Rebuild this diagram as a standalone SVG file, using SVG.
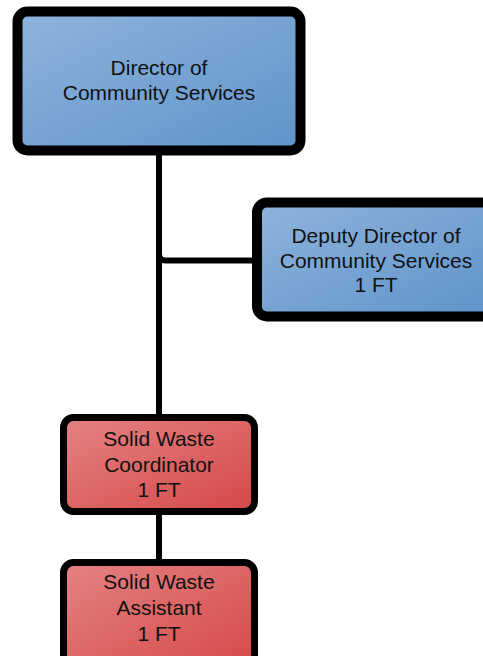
<svg xmlns="http://www.w3.org/2000/svg" width="483" height="656" viewBox="0 0 483 656">
<defs>
<linearGradient id="blue" x1="0" y1="0" x2="1" y2="1">
<stop offset="0" stop-color="#8eb4dc"/>
<stop offset="1" stop-color="#5f93ca"/>
</linearGradient>
<linearGradient id="red" x1="0" y1="0" x2="1" y2="1">
<stop offset="0" stop-color="#e58282"/>
<stop offset="1" stop-color="#d54848"/>
</linearGradient>
</defs>
<style>
text{font-family:"Liberation Sans",Arial,sans-serif;font-size:21px;fill:#111;text-anchor:middle}
.b{fill:url(#blue);stroke:#000;stroke-width:10}
.r{fill:url(#red);stroke:#000;stroke-width:7}
.c{fill:none;stroke:#000;stroke-width:6}
</style>
<rect width="483" height="656" fill="#fff"/>
<g id="connectors">
<path class="c" d="M159 150 V418"/>
<path class="c" d="M159 254 Q159 260.5 165.5 260.5 H258"/>
<path class="c" d="M159 510 V563"/>
</g>
<g id="director">
<rect class="b" x="17.5" y="11.5" width="283" height="139" rx="10"/>
<text x="159" y="75">Director of</text>
<text x="159" y="99.5">Community Services</text>
</g>
<g id="deputy">
<rect class="b" x="257" y="202.5" width="236" height="114" rx="10"/>
<text x="376" y="243">Deputy Director of</text>
<text x="376" y="267.5">Community Services</text>
<text x="376" y="292">1 FT</text>
</g>
<g id="coordinator">
<rect class="r" x="63.5" y="417.5" width="191" height="94" rx="10"/>
<text x="159" y="446">Solid Waste</text>
<text x="159" y="471.5">Coordinator</text>
<text x="159" y="497">1 FT</text>
</g>
<g id="assistant">
<rect class="r" x="63.5" y="562.5" width="191" height="110" rx="10"/>
<text x="159" y="589">Solid Waste</text>
<text x="159" y="615">Assistant</text>
<text x="159" y="641">1 FT</text>
</g>
</svg>
